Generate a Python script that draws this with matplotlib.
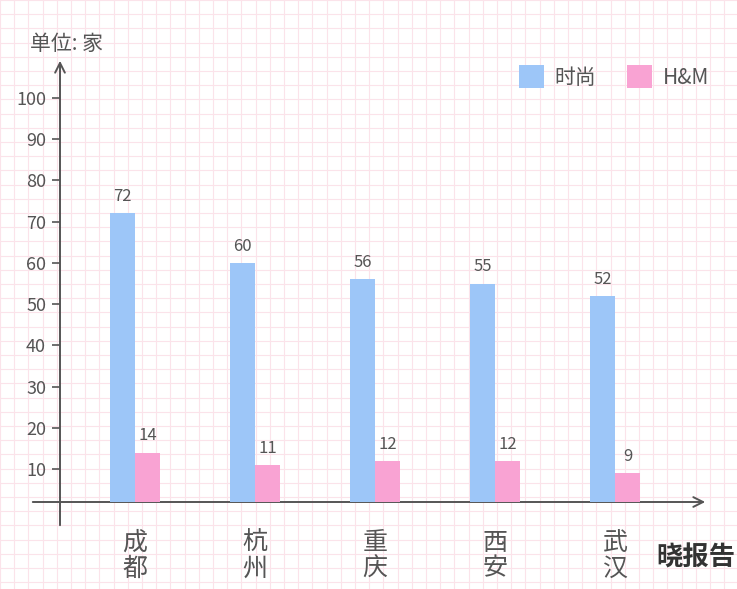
import matplotlib
matplotlib.use("Agg")
import matplotlib.pyplot as plt
from matplotlib import font_manager as fm
import numpy as np

cjk = None
for f in sorted(fm.findSystemFonts()):
    if 'CJK' in f and 'Sans' in f and 'Bold' not in f:
        try:
            fm.fontManager.addfont(f)
            name = fm.FontProperties(fname=f).get_name()
            if 'Sans' in name and (cjk is None or 'SC' in name):
                cjk = name
        except Exception:
            pass
plt.rcParams['font.family'] = [cjk or 'Noto Sans CJK SC', 'DejaVu Sans']

cats = ["成\n都", "杭\n州", "重\n庆", "西\n安", "武\n汉"]
fashion = [72, 60, 56, 55, 52]
hm = [14, 11, 12, 12, 9]
yticks = [10, 20, 30, 40, 50, 60, 70, 80, 90, 100]

W, H = 737, 589
fig = plt.figure(figsize=(W/100, H/100), dpi=100)
bg = fig.add_axes([0, 0, 1, 1])
bg.set_xlim(0, W); bg.set_ylim(H, 0); bg.axis('off')
for xx in np.arange(0, W, 14.2):
    bg.axvline(xx, color='#fbe3ea', lw=0.8, zorder=0)
for yy in np.arange(0, H, 14.2):
    bg.axhline(yy, color='#fbe3ea', lw=0.8, zorder=0)

grey = '#555555'
ppu = (469-98)/90
zero = 469 + 10*ppu
ax = fig.add_axes([60/W, (H-502)/H, (705-60)/W, (502-60)/H])
ax.patch.set_alpha(0)
x = np.arange(len(cats))
bw = 25/120
b1 = ax.bar(x - bw/2, fashion, bw, color='#9dc6f8', label='时尚')
b2 = ax.bar(x + bw/2, hm, bw, color='#f9a3d3', label='H&M')
for r, v in zip(b1, fashion):
    ax.text(r.get_x()+r.get_width()/2, v+2, str(v), ha='center', va='bottom', fontsize=12, color=grey)
for r, v in zip(b2, hm):
    ax.text(r.get_x()+r.get_width()/2, v+2, str(v), ha='center', va='bottom', fontsize=12, color=grey)
ax.set_xlim(-0.625, 4.75)
ax.set_ylim((zero-502)/ppu, (zero-60)/ppu)
for s in ax.spines.values():
    s.set_visible(False)
ax.set_yticks(yticks)
ax.set_yticklabels([str(t) for t in yticks], fontsize=13, color=grey)
ax.tick_params(axis='y', length=6, color=grey, width=1.2, pad=4)
ax.set_xticks(x)
ax.set_xticklabels(cats, fontsize=18, color=grey, linespacing=1.0)
ax.tick_params(axis='x', length=0, pad=20)

bg.annotate('', xy=(60, 58), xytext=(60, 528),
            arrowprops=dict(arrowstyle='->,head_width=0.35,head_length=0.7', color=grey, lw=1.4))
bg.annotate('', xy=(708, 502), xytext=(30, 502),
            arrowprops=dict(arrowstyle='->,head_width=0.35,head_length=0.7', color=grey, lw=1.4))
bg.text(30, 44, '单位: 家', fontsize=15, color=grey, va='center')
ax.legend(loc='upper right', bbox_to_anchor=(1.035, 1.03), frameon=False, fontsize=15,
          handlelength=1.2, handleheight=1.3, handletextpad=0.5, columnspacing=1.5, ncol=2, labelcolor=grey)
bg.text(696, 558, '晓报告', fontsize=19, fontweight='bold', color='#333333', ha='center', va='center')
fig.savefig('out.png', dpi=100)
